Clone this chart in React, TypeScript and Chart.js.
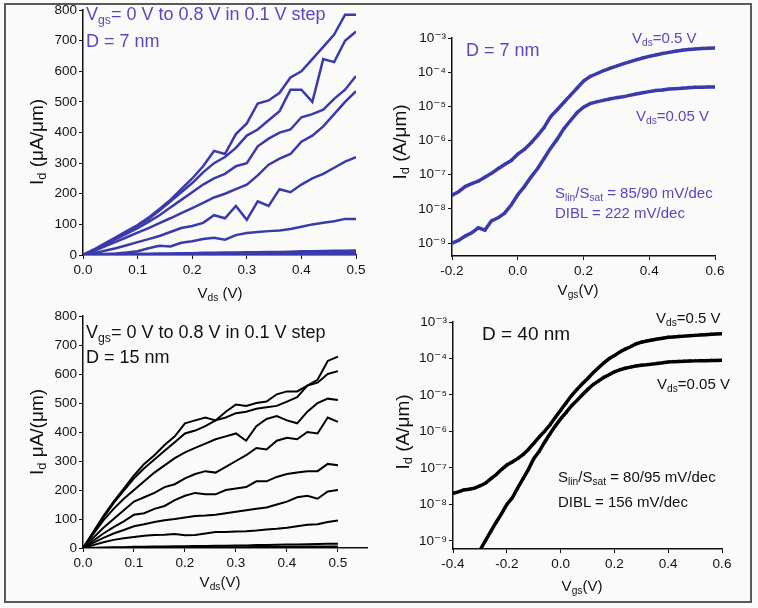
import React, { useEffect, useRef } from 'react';
import { Chart, registerables } from 'chart.js';

Chart.register(...registerables);

// ---------- data ----------
const VDS = [0, 0.02, 0.04, 0.06, 0.08, 0.1, 0.12, 0.14, 0.16, 0.18, 0.2, 0.22, 0.24, 0.26, 0.28, 0.3, 0.32, 0.34, 0.36, 0.38, 0.4, 0.42, 0.44, 0.46, 0.48, 0.5];

// D = 7 nm output curves, Vgs = 0.8 ... 0.0 V (uA/um)
const ID7_08 = [0, 18, 38, 58, 78, 98, 122, 150, 180, 215, 250, 290, 340, 330, 395, 430, 495, 505, 530, 580, 600, 640, 680, 720, 785, 785];
const ID7_07 = [0, 17, 36, 56, 76, 96, 118, 145, 175, 205, 235, 270, 300, 320, 350, 390, 410, 440, 470, 540, 540, 500, 640, 630, 700, 730];
const ID7_06 = [0, 15, 33, 52, 70, 88, 108, 130, 155, 180, 205, 230, 250, 265, 290, 300, 355, 380, 400, 410, 450, 460, 475, 510, 540, 585];
const ID7_05 = [0, 13, 28, 43, 58, 73, 88, 104, 120, 137, 153, 170, 188, 200, 215, 230, 260, 295, 315, 330, 370, 390, 420, 460, 500, 535];
const ID7_04 = [0, 6, 14, 22, 32, 42, 52, 62, 75, 88, 95, 105, 130, 120, 160, 115, 175, 160, 215, 205, 230, 250, 265, 285, 305, 320];
const ID7_03 = [0, 1, 3, 5, 8, 12, 22, 30, 28, 40, 45, 52, 56, 50, 65, 72, 75, 78, 80, 85, 92, 100, 105, 110, 118, 118];
const ID7_02 = [0, 1, 2, 2, 3, 4, 4, 5, 5, 6, 6, 7, 7, 8, 8, 9, 9, 10, 10, 11, 12, 12, 13, 14, 14, 15];
const ID7_01 = [0, 0, 1, 1, 1, 2, 2, 2, 3, 3, 3, 4, 4, 4, 5, 5, 5, 6, 6, 6, 7, 7, 7, 8, 8, 8];
const ID7_00 = [0, 0, 0, 0, 1, 1, 1, 1, 1, 1, 2, 2, 2, 2, 2, 2, 2, 3, 3, 3, 3, 3, 3, 3, 3, 3];

// D = 15 nm output curves, Vgs = 0.8 ... 0.0 V (uA/um)
const ID15_08 = [0, 55, 110, 160, 205, 250, 290, 320, 355, 385, 430, 440, 450, 440, 470, 495, 490, 500, 505, 530, 540, 540, 560, 580, 645, 660];
const ID15_07 = [0, 52, 105, 155, 198, 240, 275, 305, 335, 365, 395, 405, 420, 440, 450, 465, 470, 480, 485, 490, 505, 520, 560, 570, 600, 610];
const ID15_06 = [0, 48, 95, 135, 170, 200, 230, 260, 285, 310, 330, 345, 360, 375, 385, 395, 370, 420, 445, 455, 440, 430, 470, 500, 515, 510];
const ID15_05 = [0, 35, 70, 100, 130, 160, 175, 190, 210, 220, 240, 255, 265, 260, 280, 300, 320, 345, 340, 370, 380, 375, 400, 395, 450, 435];
const ID15_04 = [0, 25, 50, 72, 92, 115, 120, 135, 145, 165, 180, 190, 185, 185, 200, 205, 210, 230, 230, 245, 255, 260, 265, 265, 290, 285];
const ID15_03 = [0, 18, 35, 50, 62, 75, 82, 90, 96, 100, 105, 110, 112, 115, 120, 125, 130, 135, 140, 150, 160, 175, 180, 170, 195, 200];
const ID15_02 = [0, 10, 20, 28, 34, 38, 42, 45, 46, 48, 44, 45, 50, 55, 55, 57, 58, 60, 64, 66, 70, 75, 80, 82, 90, 95];
const ID15_01 = [0, 1, 2, 3, 3, 4, 4, 5, 5, 6, 6, 7, 7, 8, 8, 9, 9, 10, 10, 11, 12, 12, 13, 14, 15, 15];
const ID15_00 = [0, 0, 0, 1, 1, 1, 1, 2, 2, 2, 2, 2, 3, 3, 3, 3, 3, 4, 4, 4, 4, 4, 5, 5, 5, 5];

// D = 7 nm transfer curves (A/um)
const VGS7 = [-0.2, -0.18, -0.16, -0.14, -0.12, -0.1, -0.08, -0.06, -0.04, -0.02, 0, 0.02, 0.04, 0.06, 0.08, 0.1, 0.12, 0.14, 0.16, 0.18, 0.2, 0.22, 0.24, 0.26, 0.28, 0.3, 0.32, 0.34, 0.36, 0.38, 0.4, 0.42, 0.44, 0.46, 0.48, 0.5, 0.52, 0.54, 0.56, 0.58, 0.6];
const ID7_SAT = [2.5e-8, 3.2e-8, 4.5e-8, 5.5e-8, 6.5e-8, 8.5e-8, 1.1e-7, 1.5e-7, 2.0e-7, 2.6e-7, 4.0e-7, 5.5e-7, 8.5e-7, 1.4e-6, 2.4e-6, 5.0e-6, 8.0e-6, 1.3e-5, 2.1e-5, 3.4e-5, 5.5e-5, 7.5e-5, 9.0e-5, 1.1e-4, 1.3e-4, 1.5e-4, 1.75e-4, 2.0e-4, 2.3e-4, 2.6e-4, 2.9e-4, 3.2e-4, 3.5e-4, 3.8e-4, 4.1e-4, 4.4e-4, 4.6e-4, 4.8e-4, 4.9e-4, 5.0e-4, 5.1e-4];
const ID7_LIN = [1.0e-9, 1.2e-9, 1.6e-9, 2.0e-9, 2.8e-9, 2.4e-9, 4.5e-9, 5.5e-9, 7.5e-9, 1.3e-8, 2.6e-8, 4.5e-8, 8.5e-8, 1.5e-7, 3.0e-7, 6.0e-7, 1.1e-6, 2.2e-6, 3.8e-6, 6.5e-6, 9.5e-6, 1.2e-5, 1.35e-5, 1.5e-5, 1.65e-5, 1.8e-5, 1.9e-5, 2.1e-5, 2.3e-5, 2.5e-5, 2.7e-5, 2.9e-5, 3.0e-5, 3.2e-5, 3.3e-5, 3.4e-5, 3.5e-5, 3.6e-5, 3.6e-5, 3.7e-5, 3.7e-5];

// D = 40 nm transfer curves (A/um)
const VGS40 = [-0.4, -0.38, -0.36, -0.34, -0.32, -0.3, -0.28, -0.26, -0.24, -0.22, -0.2, -0.18, -0.16, -0.14, -0.12, -0.1, -0.08, -0.06, -0.04, -0.02, 0, 0.02, 0.04, 0.06, 0.08, 0.1, 0.12, 0.14, 0.16, 0.18, 0.2, 0.22, 0.24, 0.26, 0.28, 0.3, 0.32, 0.34, 0.36, 0.38, 0.4, 0.42, 0.44, 0.46, 0.48, 0.5, 0.52, 0.54, 0.56, 0.58, 0.6];
const ID40_SAT = [2.0e-8, 2.2e-8, 2.5e-8, 2.6e-8, 2.8e-8, 3.2e-8, 3.8e-8, 5.0e-8, 6.5e-8, 9.0e-8, 1.2e-7, 1.45e-7, 1.8e-7, 2.3e-7, 3.2e-7, 4.7e-7, 7.0e-7, 1.0e-6, 1.5e-6, 2.4e-6, 3.8e-6, 6.0e-6, 9.5e-6, 1.4e-5, 2.0e-5, 2.8e-5, 4.0e-5, 5.5e-5, 7.5e-5, 9.8e-5, 1.2e-4, 1.5e-4, 1.8e-4, 2.1e-4, 2.5e-4, 2.8e-4, 3.0e-4, 3.2e-4, 3.4e-4, 3.6e-4, 3.8e-4, 3.9e-4, 4.0e-4, 4.1e-4, 4.2e-4, 4.3e-4, 4.4e-4, 4.5e-4, 4.6e-4, 4.7e-4, 4.8e-4];
const VGS40_LIN = [-0.3, -0.28, -0.26, -0.24, -0.22, -0.2, -0.18, -0.16, -0.14, -0.12, -0.1, -0.08, -0.06, -0.04, -0.02, 0, 0.02, 0.04, 0.06, 0.08, 0.1, 0.12, 0.14, 0.16, 0.18, 0.2, 0.22, 0.24, 0.26, 0.28, 0.3, 0.32, 0.34, 0.36, 0.38, 0.4, 0.42, 0.44, 0.46, 0.48, 0.5, 0.52, 0.54, 0.56, 0.58, 0.6];
const ID40_LIN = [5.5e-10, 1.0e-9, 1.8e-9, 3.2e-9, 5.5e-9, 1.0e-8, 1.5e-8, 2.8e-8, 5.0e-8, 9.0e-8, 1.8e-7, 2.8e-7, 5.0e-7, 8.5e-7, 1.4e-6, 2.2e-6, 3.3e-6, 5.0e-6, 7.0e-6, 1.0e-5, 1.4e-5, 1.9e-5, 2.4e-5, 3.0e-5, 3.6e-5, 4.3e-5, 4.9e-5, 5.4e-5, 5.8e-5, 6.2e-5, 6.5e-5, 6.7e-5, 7.0e-5, 7.3e-5, 7.6e-5, 8.0e-5, 8.2e-5, 8.3e-5, 8.4e-5, 8.5e-5, 8.6e-5, 8.7e-5, 8.7e-5, 8.8e-5, 8.8e-5, 8.9e-5];

const LOG_TICKS = [1e-9, 1e-8, 1e-7, 1e-6, 1e-5, 1e-4, 1e-3];

// ---------- styling ----------
const BLUE = '#3a3aac';
const BLUE_TEXT = '#5549c2';
const INK = '#111111';
const FONT = "'Liberation Sans', Arial, 'DejaVu Sans', sans-serif";

const SUP: Record<string, string> = { '-': '\u207B', '0': '\u2070', '1': '\u00B9', '2': '\u00B2', '3': '\u00B3', '4': '\u2074', '5': '\u2075', '6': '\u2076', '7': '\u2077', '8': '\u2078', '9': '\u2079' };
const toSup = (s: string) => s.split('').map((c) => SUP[c] ?? c).join('');

type Rect = { l: number; t: number; r: number; b: number };

const pts = (xs: number[], ys: number[]) => xs.map((x, i) => ({ x, y: ys[i] }));

function axisCommon() {
  return {
    grid: { display: true, drawOnChartArea: false, drawTicks: true, tickLength: 4, color: INK, lineWidth: 1 },
    border: { display: true, color: INK, width: 1.5 },
  };
}

function makeConfig(box: Rect, plot: Rect, datasets: any[], xs: any, ys: any) {
  const yW = plot.l - box.l;
  const xH = box.b - plot.b;
  return {
    type: 'line',
    data: { datasets },
    options: {
      responsive: false,
      animation: false,
      events: [],
      layout: { padding: { top: plot.t - box.t, right: box.r - plot.r, left: 0, bottom: 0 } },
      plugins: { legend: { display: false }, tooltip: { enabled: false }, title: { display: false } },
      elements: { point: { radius: 0 }, line: { tension: 0 } },
      scales: {
        x: { ...axisCommon(), ...xs, afterFit: (s: any) => { s.height = xH; } },
        y: { ...axisCommon(), ...ys, afterFit: (s: any) => { s.width = yW; } },
      },
    },
  };
}

const tickFont = { family: FONT, size: 13.5 };

function xLinear(min: number, max: number, step: number) {
  return {
    type: 'linear', min, max, bounds: 'data',
    ticks: { stepSize: step, includeBounds: false, font: tickFont, color: INK, padding: 3, maxRotation: 0, autoSkip: false,
      callback: (v: any) => Number(v).toFixed(1) },
  };
}

function yLinear() {
  return {
    type: 'linear', min: 0, max: 800, bounds: 'data',
    ticks: { stepSize: 100, font: tickFont, color: INK, padding: 2, autoSkip: false, callback: (v: any) => String(Math.round(Number(v))) },
  };
}

function yLog(min: number) {
  return {
    type: 'logarithmic', min, max: 1e-3, bounds: 'data',
    afterBuildTicks: (s: any) => { s.ticks = LOG_TICKS.map((value) => ({ value })); },
    ticks: { font: tickFont, color: INK, padding: 2, autoSkip: false,
      callback: (v: any) => '10' + toSup(String(Math.round(Math.log10(Number(v))))) },
  };
}

function ChartBox({ box, build }: { box: Rect; build: () => any }) {
  const ref = useRef<HTMLCanvasElement>(null);
  useEffect(() => {
    const chart = new Chart(ref.current as HTMLCanvasElement, build());
    return () => chart.destroy();
  }, []);
  const w = box.r - box.l;
  const h = box.b - box.t;
  return (
    <div style={{ position: 'absolute', left: box.l, top: box.t, width: w, height: h }}>
      <canvas ref={ref} width={w} height={h} style={{ width: w, height: h, display: 'block' }} />
    </div>
  );
}

const lineDs = (xs: number[], ys: number[], color: string, width: number) => ({
  data: pts(xs, ys), borderColor: color, backgroundColor: color, borderWidth: width, pointRadius: 0, fill: false,
});

const transferDs = (xs: number[], ys: number[], color: string) => ({
  data: pts(xs, ys), borderColor: color, backgroundColor: color, borderWidth: 3.5,
  pointRadius: 2.2, pointStyle: 'triangle', pointBorderWidth: 0, fill: false,
});

// ---------- text helpers ----------
const Sub = ({ children }: { children: React.ReactNode }) => (
  <sub style={{ fontSize: '0.68em', verticalAlign: '-0.3em', lineHeight: 0 }}>{children}</sub>
);

function Txt({ x, y, size, color, children, center }: { x: number; y: number; size: number; color: string; children: React.ReactNode; center?: boolean }) {
  return (
    <div style={{ position: 'absolute', left: x, top: y, transform: center ? 'translate(-50%,-50%)' : 'translateY(-50%)',
      fontFamily: FONT, fontSize: size, color, whiteSpace: 'nowrap', lineHeight: 1 }}>{children}</div>
  );
}

function VTxt({ x, y, size, color, children }: { x: number; y: number; size: number; color: string; children: React.ReactNode }) {
  return (
    <div style={{ position: 'absolute', left: x, top: y, transform: 'translate(-50%,-50%) rotate(-90deg)',
      fontFamily: FONT, fontSize: size, color, whiteSpace: 'nowrap', lineHeight: 1 }}>{children}</div>
  );
}

// ---------- panels ----------
const B1: Rect = { l: 40, t: 0, r: 370, b: 285 };
const P1: Rect = { l: 83, t: 9, r: 356, b: 255 };
const B2: Rect = { l: 410, t: 20, r: 740, b: 285 };
const P2: Rect = { l: 452, t: 38, r: 715, b: 256 };
const B3: Rect = { l: 40, t: 300, r: 385, b: 575 };
const P3: Rect = { l: 83, t: 316, r: 367, b: 548 };
const B4: Rect = { l: 410, t: 300, r: 750, b: 580 };
const P4: Rect = { l: 453, t: 322, r: 722, b: 549 };

export default function App() {
  const build1 = () => makeConfig(B1, P1,
    [ID7_08, ID7_07, ID7_06, ID7_05, ID7_04, ID7_03, ID7_02, ID7_01, ID7_00].map((d) => lineDs(VDS, d, BLUE, 2.5)),
    xLinear(0, 0.5, 0.1), yLinear());
  const build2 = () => makeConfig(B2, P2,
    [transferDs(VGS7, ID7_SAT, BLUE), transferDs(VGS7, ID7_LIN, BLUE)],
    xLinear(-0.2, 0.6, 0.2), yLog(4.2e-10));
  const build3 = () => makeConfig(B3, P3,
    [ID15_08, ID15_07, ID15_06, ID15_05, ID15_04, ID15_03, ID15_02, ID15_01, ID15_00].map((d) => lineDs(VDS, d, '#000', 2)),
    xLinear(0, 0.557, 0.1), yLinear());
  const build4 = () => makeConfig(B4, P4,
    [transferDs(VGS40, ID40_SAT, '#000'), transferDs(VGS40_LIN, ID40_LIN, '#000')],
    xLinear(-0.4, 0.6, 0.2), yLog(6.0e-10));

  return (
    <div style={{ position: 'absolute', left: 0, top: 0, width: 758, height: 608, background: '#fafaf8', overflow: 'hidden' }}>
      <div style={{ position: 'absolute', left: 4, top: 3, width: 748, height: 600, border: '2px solid #5a5a5a', boxSizing: 'border-box' }} />
      <ChartBox box={B1} build={build1} />
      <ChartBox box={B2} build={build2} />
      <ChartBox box={B3} build={build3} />
      <ChartBox box={B4} build={build4} />

      {/* panel 1 */}
      <Txt x={86} y={14} size={18} color={BLUE_TEXT}>V<Sub>gs</Sub>= 0 V to 0.8 V in 0.1 V step</Txt>
      <Txt x={86} y={41} size={18} color={BLUE_TEXT}>D = 7 nm</Txt>
      <VTxt x={36} y={142} size={19} color={INK}>I<Sub>d</Sub> (μA/μm)</VTxt>
      <Txt x={220} y={292} size={15} color={INK} center>V<Sub>ds</Sub> (V)</Txt>

      {/* panel 2 */}
      <Txt x={466} y={50} size={18} color={BLUE_TEXT}>D = 7 nm</Txt>
      <Txt x={632} y={37} size={15} color={BLUE_TEXT}>V<Sub>ds</Sub>=0.5 V</Txt>
      <Txt x={636} y={115} size={15} color={BLUE_TEXT}>V<Sub>ds</Sub>=0.05 V</Txt>
      <Txt x={555} y={192} size={15} color={BLUE_TEXT}>S<Sub>lin</Sub>/S<Sub>sat</Sub> = 85/90 mV/dec</Txt>
      <Txt x={555} y={212} size={15} color={BLUE_TEXT}>DIBL = 222 mV/dec</Txt>
      <VTxt x={399} y={142} size={19} color={INK}>I<Sub>d</Sub> (A/μm)</VTxt>
      <Txt x={578} y={289} size={15} color={INK} center>V<Sub>gs</Sub>(V)</Txt>

      {/* panel 3 */}
      <Txt x={86} y={332} size={18} color={INK}>V<Sub>gs</Sub>= 0 V to 0.8 V in 0.1 V step</Txt>
      <Txt x={86} y={357} size={18} color={INK}>D = 15 nm</Txt>
      <VTxt x={36} y={432} size={19} color={INK}>I<Sub>d</Sub> μA/(μm)</VTxt>
      <Txt x={220} y={581} size={15} color={INK} center>V<Sub>ds</Sub>(V)</Txt>

      {/* panel 4 */}
      <Txt x={482} y={333} size={19} color={INK}>D = 40 nm</Txt>
      <Txt x={656} y={317} size={15} color={INK}>V<Sub>ds</Sub>=0.5 V</Txt>
      <Txt x={657} y={383} size={15} color={INK}>V<Sub>ds</Sub>=0.05 V</Txt>
      <Txt x={558} y={476} size={15} color={INK}>S<Sub>lin</Sub>/S<Sub>sat</Sub> = 80/95 mV/dec</Txt>
      <Txt x={558} y={501} size={15} color={INK}>DIBL = 156 mV/dec</Txt>
      <VTxt x={402} y={432} size={19} color={INK}>I<Sub>d</Sub> (A/μm)</VTxt>
      <Txt x={582} y={585} size={15} color={INK} center>V<Sub>gs</Sub>(V)</Txt>
    </div>
  );
}
